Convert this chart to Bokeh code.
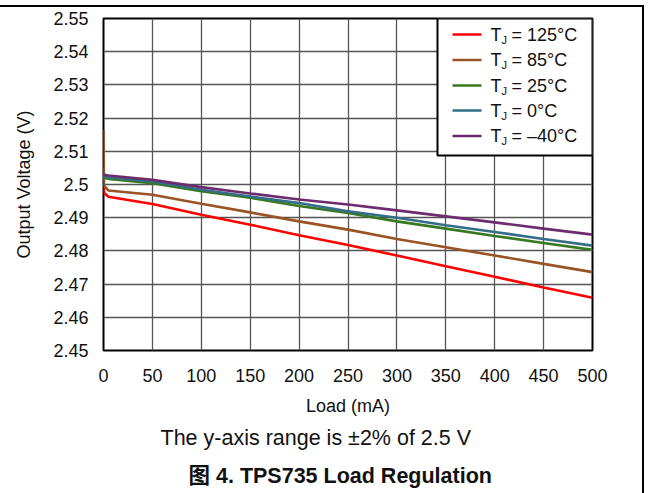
from bokeh.plotting import figure
from bokeh.models import (Range1d, FixedTicker, CustomJSTickFormatter, Label, BoxAnnotation,
                          Title, InlineStyleSheet)
from bokeh.embed import file_html
from bokeh.resources import INLINE

# ---- data ----
load_ma = [0, 0.5, 5, 50, 100, 150, 200, 250, 300, 350, 400, 450, 500]
v_125 = [2.5050, 2.4975, 2.4963, 2.4941, 2.4909, 2.4879, 2.4847, 2.4818, 2.4786, 2.4754, 2.4722, 2.4690, 2.4659]
v_85 = [2.5165, 2.4997, 2.4982, 2.4969, 2.4942, 2.4916, 2.4889, 2.4864, 2.4836, 2.4811, 2.4786, 2.4761, 2.4736]
v_25 = [2.5022, 2.5020, 2.5017, 2.5004, 2.4980, 2.4960, 2.4935, 2.4914, 2.4889, 2.4867, 2.4845, 2.4824, 2.4803]
v_0 = [2.5026, 2.5024, 2.5021, 2.5009, 2.4984, 2.4964, 2.4944, 2.4919, 2.4900, 2.4877, 2.4857, 2.4836, 2.4816]
v_m40 = [2.5030, 2.5029, 2.5027, 2.5014, 2.4992, 2.4973, 2.4955, 2.4940, 2.4922, 2.4904, 2.4886, 2.4867, 2.4849]

series_temps = ["125°C", "85°C", "25°C", "0°C", "–40°C"]
series_values = [v_125, v_85, v_25, v_0, v_m40]
series_colors = ["#ff0000", "#9a5324", "#36791e", "#336d86", "#6d2c6d"]

x_ticks = [0, 50, 100, 150, 200, 250, 300, 350, 400, 450, 500]
y_ticks = [2.45, 2.46, 2.47, 2.48, 2.49, 2.50, 2.51, 2.52, 2.53, 2.54, 2.55]
y_tick_labels = ["2.45", "2.46", "2.47", "2.48", "2.49", "2.5", "2.51", "2.52", "2.53", "2.54", "2.55"]

x_label = "Load (mA)"
y_label = "Output Voltage (V)"
note_text = "The y-axis range is ±2% of 2.5 V"
caption_text = "图 4. TPS735 Load Regulation"

FONT = "Liberation Sans"

p = figure(width=648, height=493, output_backend="svg", toolbar_location=None,
           x_range=Range1d(0, 500), y_range=Range1d(2.45, 2.55),
           min_border_left=103, min_border_right=56, min_border_top=18, min_border_bottom=143)
p.background_fill_color = "white"
p.border_fill_color = "white"
p.outline_line_color = "black"
p.outline_line_width = 2
p.outline_line_alpha = 1

p.xaxis.ticker = FixedTicker(ticks=x_ticks)
p.yaxis.ticker = FixedTicker(ticks=y_ticks)
p.yaxis.formatter = CustomJSTickFormatter(args=dict(tvals=y_ticks, tlabels=y_tick_labels), code="""
    for (let i = 0; i < tvals.length; i++) { if (Math.abs(tvals[i] - tick) < 1e-9) return tlabels[i]; }
    return '';
""")

for ax in (p.xaxis[0], p.yaxis[0]):
    ax.axis_line_color = None
    ax.major_tick_line_color = None
    ax.minor_tick_line_color = None
    ax.major_tick_out = 0
    ax.major_tick_in = 0
    ax.major_label_text_font = FONT
    ax.major_label_text_font_size = "18px"
    ax.major_label_text_color = "#111111"
    ax.axis_label_text_font = FONT
    ax.axis_label_text_font_size = "18px"
    ax.axis_label_text_font_style = "normal"
    ax.axis_label_text_color = "#111111"

p.xaxis.axis_label = x_label
p.yaxis.axis_label = y_label
p.xaxis.major_label_standoff = 18
p.xaxis.axis_label_standoff = 11
p.yaxis.major_label_standoff = 15
p.yaxis.axis_label_standoff = 16

p.grid.grid_line_color = "#555555"
p.grid.grid_line_width = 1.3
p.grid.grid_line_alpha = 1

for vals, col in zip(series_values, series_colors):
    p.line(load_ma, vals, line_color=col, line_width=2.6)

# ---- manual legend (screen units relative to frame bottom-left) ----
def sx(px):
    return px - 103

def sy(py):
    return 350 - py

p.add_layout(BoxAnnotation(left=sx(437), right=sx(592), top=sy(18), bottom=sy(155),
                           left_units="screen", right_units="screen", top_units="screen", bottom_units="screen",
                           fill_color="white", fill_alpha=1, line_color="black", line_width=2, line_alpha=1))
row_y = [34, 59.5, 85, 110, 135.5]
for ry, temp, col in zip(row_y, series_temps, series_colors):
    p.add_layout(BoxAnnotation(left=sx(452), right=sx(481), top=sy(ry - 1.3), bottom=sy(ry + 1.3),
                               left_units="screen", right_units="screen", top_units="screen", bottom_units="screen",
                               fill_color=col, fill_alpha=1, line_color=None))
    p.add_layout(Label(x=sx(490), y=sy(ry), x_units="screen", y_units="screen", text="T",
                       text_font=FONT, text_font_size="18px", text_baseline="middle", text_align="left",
                       text_color="#111111"))
    p.add_layout(Label(x=sx(501), y=sy(ry + 5), x_units="screen", y_units="screen", text="J",
                       text_font=FONT, text_font_size="11px", text_baseline="middle", text_align="left",
                       text_color="#111111"))
    p.add_layout(Label(x=sx(511), y=sy(ry), x_units="screen", y_units="screen", text="= " + temp,
                       text_font=FONT, text_font_size="18px", text_baseline="middle", text_align="left",
                       text_color="#111111"))

# ---- texts below ----
p.add_layout(Title(text=note_text, align="left", offset=57, standoff=14, vertical_align="top",
                   text_font=FONT, text_font_size="21.5px", text_font_style="normal",
                   text_color="#111111"), "below")
p.add_layout(Title(text=caption_text, align="left", offset=85, standoff=7, vertical_align="bottom",
                   text_font=FONT + ", Noto Sans CJK SC", text_font_size="21.5px", text_font_style="bold",
                   text_color="#111111"), "below")

# ---- page frame decorations ----
p.stylesheets = [InlineStyleSheet(css="""
:host::before { content: ""; position: absolute; left: 0px; top: 5px; width: 644px; height: 2px;
                background: #000; z-index: 100; pointer-events: none; }
:host::after { content: ""; position: absolute; left: 642px; top: 5px; width: 2px; height: 488px;
               background: #000; z-index: 100; pointer-events: none; }
""")]

open("out.html", "w").write(file_html(p, INLINE))
